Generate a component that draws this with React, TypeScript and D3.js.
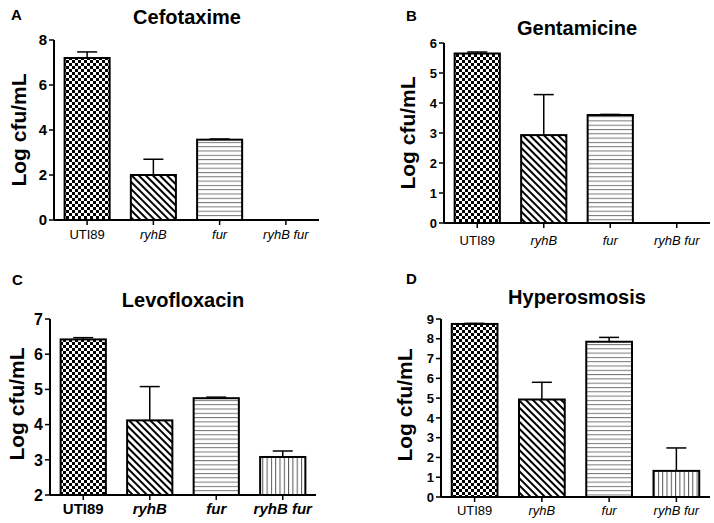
import React from "react";
import * as d3 from "d3";

const categories = ["UTI89", "ryhB", "fur", "ryhB fur"];
const italicCats = [false, true, true, true];

const cefotaximeValues = [7.2, 2.0, 3.57, 0];
const cefotaximeErrors = [7.47, 2.7, 3.6, 0];
const gentamicineValues = [5.65, 2.93, 3.6, 0];
const gentamicineErrors = [5.7, 4.28, 3.62, 0];
const levofloxacinValues = [6.42, 4.12, 4.75, 3.08];
const levofloxacinErrors = [6.47, 5.08, 4.78, 3.25];
const hyperosmosisValues = [8.75, 4.93, 7.85, 1.32];
const hyperosmosisErrors = [8.78, 5.8, 8.07, 2.48];

const cefotaximeTicks = [0, 2, 4, 6, 8];
const gentamicineTicks = [0, 1, 2, 3, 4, 5, 6];
const levofloxacinTicks = [2, 3, 4, 5, 6, 7];
const hyperosmosisTicks = [0, 1, 2, 3, 4, 5, 6, 7, 8, 9];

const patterns = ["url(#checker)", "url(#diag)", "url(#hlines)", "url(#vlines)"];
const FONT = "'Liberation Sans', Arial, sans-serif";

type PanelProps = {
  letter: string;
  letterX: number;
  letterY: number;
  title: string;
  titleX: number;
  titleY: number;
  values: number[];
  errors: number[];
  ticks: number[];
  domain: [number, number];
  x0: number;
  x1: number;
  yTop: number;
  yBottom: number;
  tickFont: number;
  labelFont: number;
  labelBold: boolean;
  labelY: number;
  ylabX: number;
  ylabY: number;
};

function Panel(p: PanelProps) {
  const x = d3.scaleBand<string>().domain(categories).range([p.x0, p.x1]).paddingInner(0.32).paddingOuter(0.16);
  const y = d3.scaleLinear().domain(p.domain).range([p.yBottom, p.yTop]);
  const bw = x.bandwidth();
  return (
    <g>
      <text x={p.letterX} y={p.letterY} fontFamily={FONT} fontWeight="bold" fontSize={15}>{p.letter}</text>
      <text x={p.titleX} y={p.titleY} textAnchor="middle" fontFamily={FONT} fontWeight="bold" fontSize={20}>{p.title}</text>
      <text transform={`translate(${p.ylabX},${p.ylabY}) rotate(-90)`} textAnchor="middle" fontFamily={FONT} fontWeight="bold" fontSize={21}>Log cfu/mL</text>
      {categories.map((c, i) => {
        const v = p.values[i];
        if (v <= p.domain[0]) return null;
        const bx = x(c)!;
        const cx = bx + bw / 2;
        return (
          <g key={c}>
            <line x1={cx} x2={cx} y1={y(v)} y2={y(p.errors[i])} stroke="#000" strokeWidth={1.5} />
            <line x1={cx - 10} x2={cx + 10} y1={y(p.errors[i])} y2={y(p.errors[i])} stroke="#000" strokeWidth={1.5} />
            <rect x={bx} y={y(v)} width={bw} height={y(p.domain[0]) - y(v)} fill="#fff" />
            <rect x={bx} y={y(v)} width={bw} height={y(p.domain[0]) - y(v)} fill={patterns[i]} stroke="#000" strokeWidth={2} />
          </g>
        );
      })}
      <line x1={p.x0} x2={p.x0} y1={p.yTop} y2={p.yBottom} stroke="#000" strokeWidth={2} />
      <line x1={p.x0} x2={p.x1} y1={p.yBottom} y2={p.yBottom} stroke="#000" strokeWidth={2} />
      {p.ticks.map((t) => (
        <g key={t}>
          <line x1={p.x0 - 5} x2={p.x0} y1={y(t)} y2={y(t)} stroke="#000" strokeWidth={1.5} />
          <text x={p.x0 - 7} y={y(t)} dy="0.36em" textAnchor="end" fontFamily={FONT} fontWeight="bold" fontSize={p.tickFont}>{t}</text>
        </g>
      ))}
      {categories.map((c, i) => {
        const cx = x(c)! + bw / 2;
        return (
          <g key={"l" + c}>
            <line x1={cx} x2={cx} y1={p.yBottom} y2={p.yBottom + 5} stroke="#000" strokeWidth={1.5} />
            <text x={cx} y={p.labelY} textAnchor="middle" fontFamily={FONT} fontWeight={p.labelBold ? "bold" : "normal"} fontStyle={italicCats[i] ? "italic" : "normal"} fontSize={p.labelFont}>{c}</text>
          </g>
        );
      })}
    </g>
  );
}

export default function App() {
  return (
    <svg width={714} height={523} style={{ position: "absolute", left: 0, top: 0, background: "#fff" }}>
      <defs>
        <pattern id="checker" width={6} height={6} patternUnits="userSpaceOnUse">
          <rect width={6} height={6} fill="#fff" />
          <rect x={0} y={0} width={3} height={3} fill="#000" />
          <rect x={3} y={3} width={3} height={3} fill="#000" />
        </pattern>
        <pattern id="diag" width={5} height={5} patternUnits="userSpaceOnUse" patternTransform="rotate(45)">
          <rect width={5} height={5} fill="#fff" />
          <rect x={0} y={0} width={5} height={2} fill="#000" />
        </pattern>
        <pattern id="hlines" width={4} height={4.3} patternUnits="userSpaceOnUse">
          <rect width={4} height={4.3} fill="#fff" />
          <rect x={0} y={0} width={4} height={1} fill="#777" />
        </pattern>
        <pattern id="vlines" width={4.3} height={4} patternUnits="userSpaceOnUse">
          <rect width={4.3} height={4} fill="#fff" />
          <rect x={0} y={0} width={1} height={4} fill="#555" />
        </pattern>
      </defs>
      <rect width={714} height={523} fill="#fff" />
      <Panel letter="A" letterX={11} letterY={20} title="Cefotaxime" titleX={187} titleY={24}
        values={cefotaximeValues} errors={cefotaximeErrors} ticks={cefotaximeTicks} domain={[0, 8]}
        x0={54} x1={319} yTop={40} yBottom={220} tickFont={15} labelFont={13} labelBold={false} labelY={239}
        ylabX={26} ylabY={130} />
      <Panel letter="B" letterX={406} letterY={21} title="Gentamicine" titleX={577} titleY={35}
        values={gentamicineValues} errors={gentamicineErrors} ticks={gentamicineTicks} domain={[0, 6]}
        x0={444} x1={710} yTop={43} yBottom={223} tickFont={13} labelFont={13} labelBold={false} labelY={245}
        ylabX={415} ylabY={133} />
      <Panel letter="C" letterX={12} letterY={285} title="Levofloxacin" titleX={183} titleY={307}
        values={levofloxacinValues} errors={levofloxacinErrors} ticks={levofloxacinTicks} domain={[2, 7]}
        x0={50} x1={316} yTop={319} yBottom={495} tickFont={16} labelFont={15} labelBold={true} labelY={514}
        ylabX={24} ylabY={404} />
      <Panel letter="D" letterX={406} letterY={284} title="Hyperosmosis" titleX={577} titleY={304}
        values={hyperosmosisValues} errors={hyperosmosisErrors} ticks={hyperosmosisTicks} domain={[0, 9]}
        x0={441} x1={710} yTop={319} yBottom={497} tickFont={13} labelFont={13} labelBold={false} labelY={515}
        ylabX={412} ylabY={405} />
    </svg>
  );
}
